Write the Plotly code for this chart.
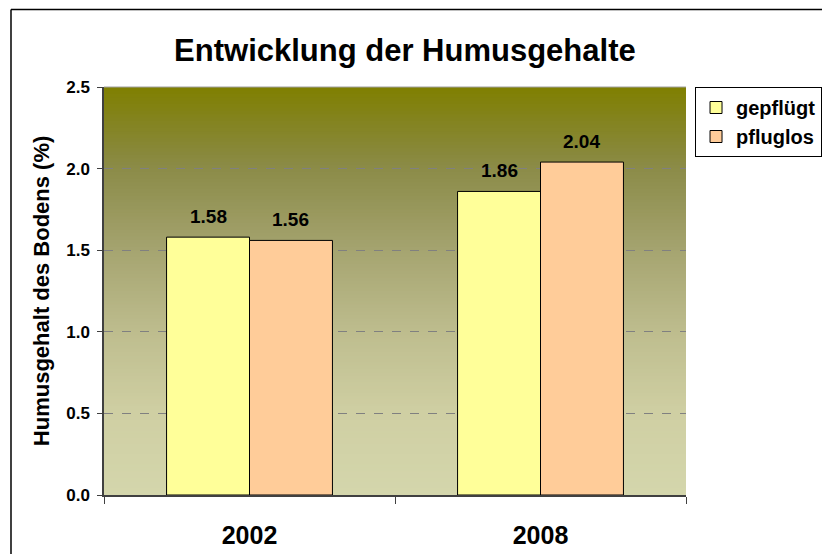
import plotly.graph_objects as go

years = ['2002', '2008']
gepfluegt = [1.58, 1.86]
pfluglos = [1.56, 2.04]

FONT = 'Arial, Liberation Sans, sans-serif'
BARGAP = 0.43

fig = go.Figure()
fig.add_trace(go.Bar(x=years, y=gepfluegt, name='gepflügt',
                     marker=dict(color='#FFFF99', line=dict(color='black', width=1))))
fig.add_trace(go.Bar(x=years, y=pfluglos, name='pfluglos',
                     marker=dict(color='#FFCC99', line=dict(color='black', width=1))))

# value labels above the bars
bw = (1 - BARGAP) / 2
anns = []
for i, (a, b) in enumerate(zip(gepfluegt, pfluglos)):
    for off, v in ((-bw / 2, a), (bw / 2, b)):
        anns.append(dict(x=i + off, y=v, xref='x', yref='y', text='%.2f' % v,
                         showarrow=False, yshift=21, yanchor='middle',
                         font=dict(family=FONT, size=19, color='black', weight='bold')))

anns.append(dict(x=-0.108, y=0.5, xref='paper', yref='paper', textangle=-90,
                 xanchor='center', yanchor='middle',
                 text='Humusgehalt des Bodens (%)', showarrow=False,
                 font=dict(family=FONT, size=22, color='black', weight='bold')))

# vertical gradient for plot background (olive -> pale)
stops = [(0.0, (212, 214, 172)), (0.2, (207, 207, 163)), (0.4, (190, 189, 142)),
         (0.6, (165, 164, 112)), (0.8, (139, 139, 72)), (0.92, (131, 131, 30)),
         (1.0, (128, 128, 0))]


def col(t):
    for (t0, c0), (t1, c1) in zip(stops[:-1], stops[1:]):
        if t0 <= t <= t1:
            f = (t - t0) / (t1 - t0)
            return 'rgb(%d,%d,%d)' % tuple(round(c0[k] + (c1[k] - c0[k]) * f) for k in range(3))
    return 'rgb(128,128,0)'


shapes = []
n = 120
for k in range(n):
    shapes.append(dict(type='rect', xref='paper', yref='paper', layer='below',
                       x0=0, x1=1, y0=k / n, y1=(k + 1.6) / n if k < n - 1 else 1,
                       fillcolor=col((k + 0.5) / n), line=dict(width=0)))
# top edge of plot area
shapes.append(dict(type='line', xref='paper', yref='paper', x0=0, x1=1, y0=1, y1=1,
                   line=dict(color='#A0A0A0', width=1)))
# outer chart frame (left and top)
shapes.append(dict(type='line', xref='paper', yref='paper', x0=-0.1598, x1=-0.1598,
                   y0=1.19, y1=-0.2, line=dict(color='black', width=1.5)))
shapes.append(dict(type='line', xref='paper', yref='paper', x0=-0.1598, x1=1.3,
                   y0=1.19, y1=1.19, line=dict(color='black', width=1.5)))

# page body has an 8px margin, so margins are offset to land the plot at 104..686 / 87..495
fig.update_layout(
    width=830, height=554,
    margin=dict(l=96, r=152, t=79, b=67),
    paper_bgcolor='white', plot_bgcolor='rgba(0,0,0,0)',
    barmode='group', bargap=BARGAP, bargroupgap=0,
    title=dict(text='Entwicklung der Humusgehalte', x=0.517, xref='paper',
               xanchor='center', y=0.924, yanchor='middle',
               font=dict(family=FONT, size=31, color='black', weight='bold')),
    legend=dict(x=1.0155, y=1.0, xanchor='left', yanchor='top',
                bgcolor='white', bordercolor='black', borderwidth=1,
                font=dict(family=FONT, size=20, color='black', weight='bold'),
                itemwidth=30, tracegroupgap=0),
    annotations=anns, shapes=shapes,
)
fig.update_yaxes(range=[0, 2.5], dtick=0.5, tickformat='.1f',
                 showgrid=True, gridcolor='#808080', griddash='dash', gridwidth=1,
                 showline=True, linecolor='#404040', linewidth=1.5,
                 ticks='outside', ticklen=5, tickcolor='#404040',
                 ticklabelstandoff=4,
                 tickfont=dict(family=FONT, size=17, color='black', weight='bold'),
                 zeroline=False)
fig.update_xaxes(showline=True, linecolor='#404040', linewidth=1.5,
                 ticks='outside', tickson='boundaries', ticklen=7, tickcolor='#404040',
                 ticklabelstandoff=17,
                 tickfont=dict(family=FONT, size=25, color='black', weight='bold'))

fig.write_html('out.html')
